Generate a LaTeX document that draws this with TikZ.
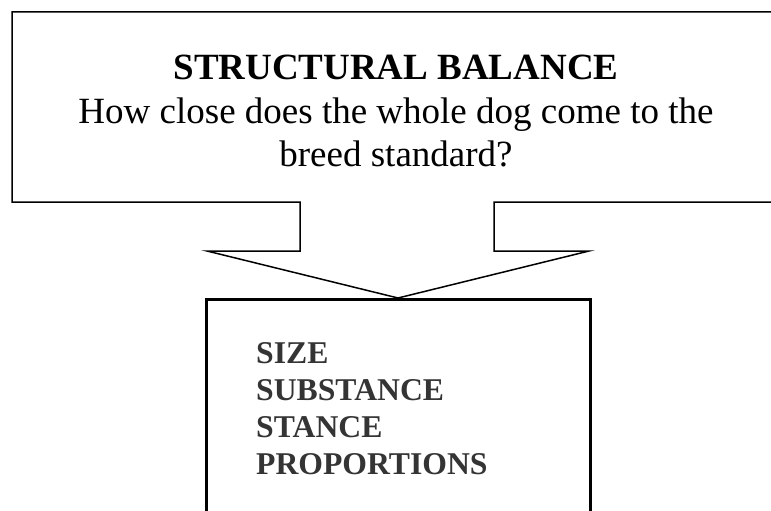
\documentclass[tikz,border=0pt]{standalone}
\usepackage{fontspec}
\setmainfont{Liberation Serif}
\usetikzlibrary{positioning}
\definecolor{listgray}{RGB}{52,52,52}

\begin{document}
\begin{tikzpicture}[x=1pt, y=-1pt,
    calloutline/.style={draw=black, line width=1.5pt, line join=miter},
    listframe/.style={draw=black, line width=3pt},
    headtext/.style={anchor=base, inner sep=0pt, font=\fontsize{37}{43}\selectfont},
    itemtext/.style={anchor=base west, inner sep=0pt, text=listgray,
                     font=\fontsize{31.7}{37}\selectfont\bfseries}]
  \useasboundingbox (0,0) rectangle (771,511);

  % callout box with the arrow pointing down
  \coordinate (tip) at (398,298);
  \draw[calloutline] (12,202) -- (12,12) -- (780,12) -- (780,202) -- (494,202)
    -- (494,251) -- (589,251) -- (tip) -- (207,251) -- (300,251) -- (300,202) -- cycle;

  % list box below
  \draw[listframe] (206,299) rectangle (590,540);

  \node[headtext, font=\fontsize{37}{43}\selectfont\bfseries] (title) at (396,80) {STRUCTURAL BALANCE};
  \node[headtext] (question) at (396,123) {How close does the whole dog come to the};
  \node[headtext] (question2) at (396,166) {breed standard?};

  \foreach \word [count=\i] in {SIZE,SUBSTANCE,STANCE,PROPORTIONS}
    \node[itemtext] (item\i) at (256,326+37*\i) {\word};
\end{tikzpicture}
\end{document}
